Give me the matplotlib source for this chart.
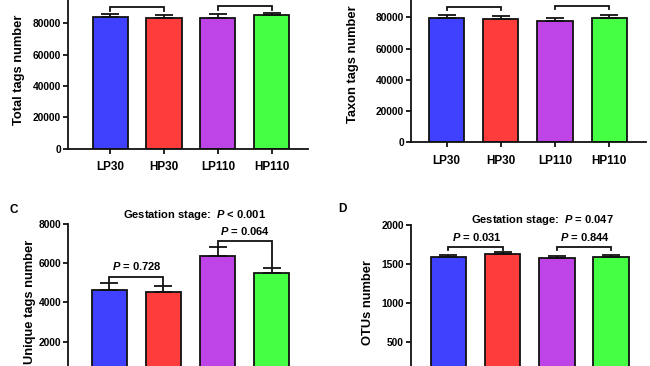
import matplotlib
matplotlib.use("Agg")
import matplotlib.pyplot as plt

plt.rcParams['font.family'] = ['Liberation Sans', 'DejaVu Sans']
plt.rcParams['font.weight'] = 'bold'
plt.rcParams['mathtext.fontset'] = 'custom'
plt.rcParams['mathtext.it'] = 'Liberation Sans:italic:bold'
plt.rcParams['mathtext.rm'] = 'Liberation Sans:bold'

groups = ["LP30", "HP30", "LP110", "HP110"]
colors = ["#4040FF", "#FF3C3C", "#BF44E8", "#44FF44"]

total_mean = [84200, 83200, 83600, 85300]
total_err = [1800, 1900, 2200, 1500]
taxon_mean = [79700, 78700, 77400, 79700]
taxon_err = [1800, 2100, 2000, 1800]
unique_mean = [4650, 4530, 6380, 5500]
unique_err = [340, 290, 430, 260]
otus_mean = [1590, 1624, 1578, 1582]
otus_err = [21, 21, 25, 25]

W, H = 650, 366
LW = 1.3
fig = plt.figure(figsize=(6.5, 3.66), dpi=100)


def px_axes(left, right, top, bottom):
    return fig.add_axes([left / W, 1 - bottom / H, (right - left) / W, (bottom - top) / H])


def style(ax, ymax, ytick_max, ystep, xlim, ylabel, lab_x, show_xticks=True):
    ax.set_xlim(*xlim)
    ax.set_ylim(0, ymax)
    ax.set_yticks(range(0, ytick_max + 1, ystep))
    for s in ['top', 'right']:
        ax.spines[s].set_visible(False)
    for s in ['left', 'bottom']:
        ax.spines[s].set_linewidth(LW)
        ax.spines[s].set_color('#111111')
    ax.tick_params(axis='y', labelsize=7.4, width=LW, length=3.6, pad=1.5, color='#111111')
    ax.tick_params(axis='x', labelsize=8.5, width=LW, length=3.6, pad=5.5, color='#111111')
    ax.set_xticks(range(4))
    ax.set_xticklabels(groups if show_xticks else [""] * 4)
    for t in ax.get_yticklabels() + ax.get_xticklabels():
        t.set_fontweight('bold')
    ax.set_ylabel(ylabel, fontsize=9.3, fontweight='bold')
    ax.yaxis.set_label_coords(lab_x, 0.5)


def bars(ax, means, errs):
    x = list(range(4))
    ax.bar(x, means, width=0.65, color=colors, edgecolor='#111111', linewidth=LW, zorder=2)
    ax.errorbar(x, means, yerr=[[0] * 4, errs], fmt='none', ecolor='#111111',
                elinewidth=LW, capsize=6.5, capthick=LW, zorder=3, clip_on=False)


def bracket(ax, x0, x1, ytop, yl0, yl1):
    ax.plot([x0, x0, x1, x1], [yl0, ytop, ytop, yl1], color='#111111', lw=LW,
            clip_on=False, zorder=4, solid_joinstyle='miter')


def note(ax, x, y, s, va='center'):
    ax.text(x, y, s, ha='center', va=va, fontsize=8, fontweight='bold', clip_on=False)


# Panel A
axA = px_axes(68, 308, -8, 148.5)
style(axA, 100000, 80000, 20000, (-0.78, 3.67), "Total tags number", -0.18)
bars(axA, total_mean, total_err)
bracket(axA, 0, 1, 90600, 88100, 88100)
bracket(axA, 2, 3, 91200, 88500, 88500)
note(axA, 0.5, 93600, r"$P$ = 0.514", va='bottom')

# Panel B
axB = px_axes(411, 646, -14, 142.3)
style(axB, 100000, 80000, 20000, (-0.66, 3.68), "Taxon tags number", -0.22)
bars(axB, taxon_mean, taxon_err)
bracket(axB, 0, 1, 86800, 84700, 84700)
bracket(axB, 2, 3, 87400, 85100, 85100)
note(axB, 0.5, 89600, r"$P$ = 0.602", va='bottom')

# Panel C
axC = px_axes(68.3, 308, 223.7, 381)
style(axC, 8000, 8000, 2000, (-0.755, 3.67), "Unique tags number", -0.135, show_xticks=False)
bars(axC, unique_mean, unique_err)
bracket(axC, 0, 1, 5277, 5030, 4860)
bracket(axC, 2, 3, 7140, 6840, 5790)
note(axC, 0.5, 5837, r"$P$ = 0.728")
note(axC, 2.5, 7649, r"$P$ = 0.064")
note(axC, 1.58, 8432, r"Gestation stage:  $P$ < 0.001")
fig.text(10 / W, 1 - 209.7 / H, "C", fontsize=8.5, fontweight='bold', ha='left', va='center')

# Panel D
axD = px_axes(411, 648, 224.7, 381)
style(axD, 2000, 2000, 500, (-0.69, 3.68), "OTUs number", -0.155, show_xticks=False)
bars(axD, otus_mean, otus_err)
bracket(axD, 0, 1, 1718, 1672, 1672)
bracket(axD, 2, 3, 1718, 1672, 1672)
note(axD, 0.52, 1846, r"$P$ = 0.031")
note(axD, 2.52, 1846, r"$P$ = 0.844")
note(axD, 1.74, 2057, r"Gestation stage:  $P$ = 0.047")
fig.text(338 / W, 1 - 209 / H, "D", fontsize=8.5, fontweight='bold', ha='left', va='center')

fig.savefig("out.png", dpi=100)
